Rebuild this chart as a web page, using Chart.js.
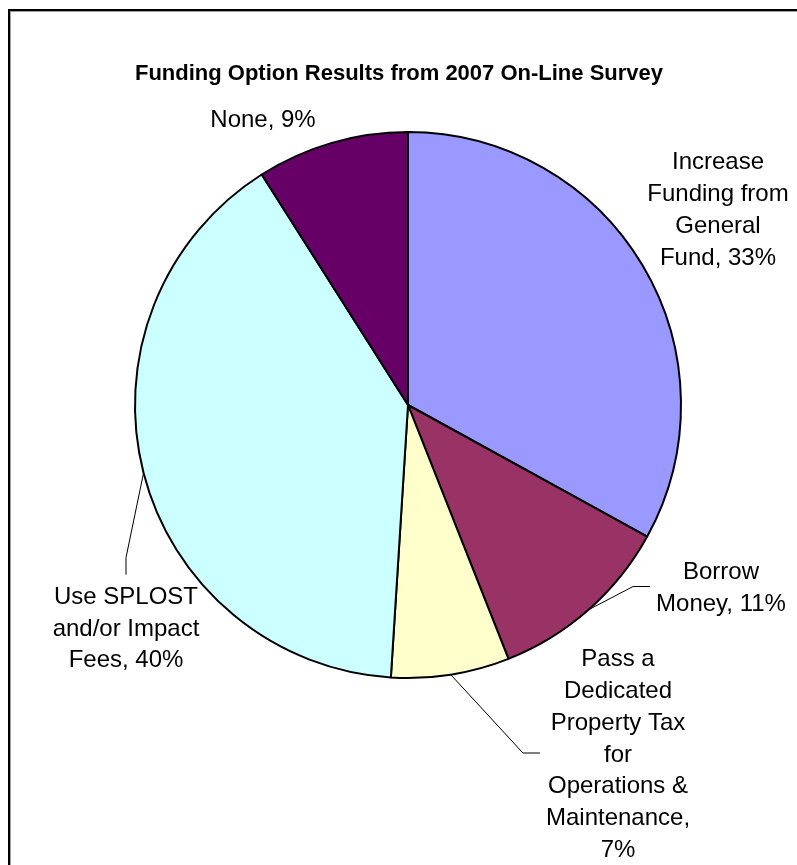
<!DOCTYPE html>
<html>
<head>
<meta charset="utf-8">
<title>Funding Option Results</title>
<script src="https://cdn.jsdelivr.net/npm/chart.js@4"></script>
<style>
  html, body { margin: 0; padding: 0; background: #fff; }
  canvas { display: block; }
</style>
</head>
<body>
<canvas id="fundingChart" width="797" height="865"></canvas>
<script>
const chartTitle = 'Funding Option Results from 2007 On-Line Survey';
const categories = [
    'Increase Funding from General Fund',
    'Borrow Money',
    'Pass a Dedicated Property Tax for Operations & Maintenance',
    'Use SPLOST and/or Impact Fees',
    'None'
];
const percents = [33, 11, 7, 40, 9];
const sliceColors = ['#9999FF', '#993366', '#FFFFCC', '#CCFFFF', '#660066'];

// where each data label sits (block centre) and how its leader line attaches
const labelSpots = [
    { x: 718, y: 208.5, wrap: 147, leader: null },
    { x: 721, y: 586.5, wrap: 147, leader: 'left' },
    { x: 618, y: 753,   wrap: 148, leader: 'left' },
    { x: 126, y: 627,   wrap: 170, leader: 'top' },
    { x: 263, y: 118,   wrap: 200, leader: null }
];

const FONT = '"Liberation Sans", Arial, sans-serif';
const LINE_H = 31.8;

// break a label into lines no wider than maxWidth
function wrapText(ctx, text, maxWidth) {
    const words = text.split(' ');
    const lines = [];
    let line = '';
    words.forEach(w => {
        const test = line ? line + ' ' + w : w;
        if (line && ctx.measureText(test).width > maxWidth) {
            lines.push(line);
            line = w;
        } else {
            line = test;
        }
    });
    if (line) lines.push(line);
    return lines;
}

const frameAndLabels = {
    id: 'frameAndLabels',
    afterDatasetsDraw(chart) {
        const { ctx } = chart;
        ctx.save();

        // outer frame (only top and left edges are in view)
        ctx.fillStyle = '#a0a0a0';
        ctx.fillRect(10, 11, 1, 854);
        ctx.fillRect(10, 11, 787, 1);
        ctx.fillStyle = '#000';
        ctx.fillRect(8, 9, 2, 856);
        ctx.fillRect(8, 9, 789, 2);

        // title
        ctx.font = 'bold 22px ' + FONT;
        ctx.textAlign = 'center';
        ctx.textBaseline = 'alphabetic';
        ctx.fillStyle = '#000';
        ctx.fillText(chartTitle, 399, 80);

        ctx.font = '24px ' + FONT;
        const meta = chart.getDatasetMeta(0);
        meta.data.forEach((arc, i) => {
            const spot = labelSpots[i];
            const text = categories[i] + ', ' + percents[i] + '%';
            const lines = wrapText(ctx, text, spot.wrap);
            const firstY = spot.y - (lines.length - 1) / 2 * LINE_H;

            lines.forEach((ln, k) => {
                ctx.fillText(ln, spot.x, firstY + k * LINE_H + 8.6);
            });

            if (!spot.leader) return;
            const p = arc.getProps(['x', 'y', 'startAngle', 'endAngle', 'outerRadius'], true);
            const mid = (p.startAngle + p.endAngle) / 2;
            const ax = p.x + Math.cos(mid) * p.outerRadius;
            const ay = p.y + Math.sin(mid) * p.outerRadius;
            let ex, ey, bx, by;
            if (spot.leader === 'left') {
                const widest = Math.max(...lines.map(l => ctx.measureText(l).width));
                ex = spot.x - widest / 2 - 6;
                ey = spot.y;
                bx = ex - 17;
                by = ey;
            } else {
                ex = spot.x;
                ey = firstY - 8.6 - 12;
                bx = ex;
                by = ey - 17;
            }
            ctx.beginPath();
            ctx.moveTo(ax, ay);
            ctx.lineTo(bx, by);
            ctx.lineTo(ex, ey);
            ctx.strokeStyle = '#000';
            ctx.lineWidth = 1;
            ctx.stroke();
        });
        ctx.restore();
    }
};

new Chart(document.getElementById('fundingChart').getContext('2d'), {
    type: 'pie',
    data: {
        labels: categories,
        datasets: [{
            data: percents,
            backgroundColor: sliceColors,
            borderColor: '#000',
            borderWidth: 2
        }]
    },
    options: {
        responsive: false,
        animation: false,
        radius: 273,
        layout: { padding: { left: 135, right: 116, top: 132, bottom: 187 } },
        plugins: {
            legend: { display: false },
            title: { display: false },
            tooltip: { enabled: false }
        }
    },
    plugins: [frameAndLabels]
});
</script>
</body>
</html>
